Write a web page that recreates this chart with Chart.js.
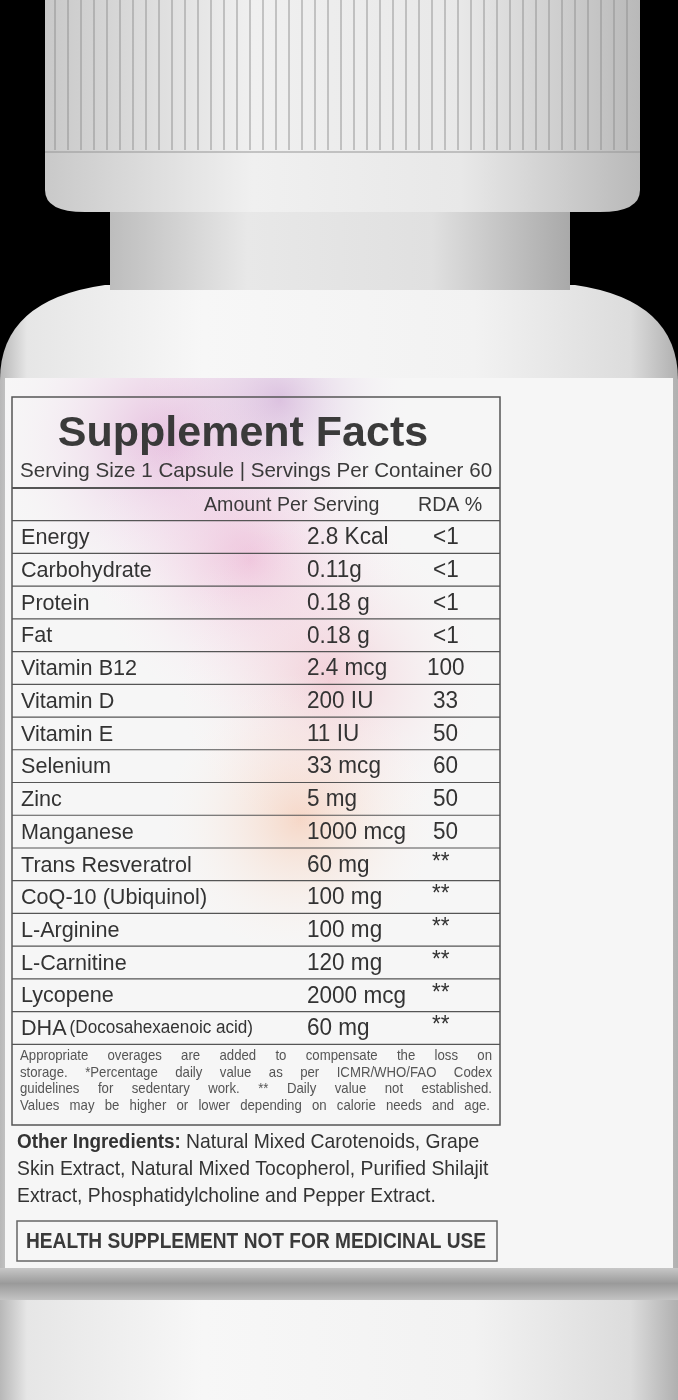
<!DOCTYPE html>
<html><head><meta charset="utf-8">
<script src="https://cdn.jsdelivr.net/npm/chart.js@4"></script>
<style>html,body{margin:0;padding:0;background:#000}canvas{display:block}</style>
</head><body>
<canvas id="c" width="678" height="1400" style="width:678px;height:1400px"></canvas>
<script>
const nutrients = ["Energy","Carbohydrate","Protein","Fat","Vitamin B12","Vitamin D","Vitamin E","Selenium","Zinc","Manganese","Trans Resveratrol","CoQ-10 (Ubiquinol)","L-Arginine","L-Carnitine","Lycopene","DHA"];
const amounts = ["2.8 Kcal","0.11g","0.18 g","0.18 g","2.4 mcg","200 IU","11 IU","33 mcg","5 mg","1000 mcg","60 mg","100 mg","100 mg","120 mg","2000 mcg","60 mg"];
const rda = ["<1","<1","<1","<1","100","33","50","60","50","50","**","**","**","**","**","**"];
const title = "Supplement Facts";
const serving = "Serving Size 1 Capsule | Servings Per Container 60";
const footnote = ["Appropriate overages are added to compensate the loss on","storage. *Percentage daily value as per ICMR/WHO/FAO Codex","guidelines for sedentary work. ** Daily value not established.","Values may be higher or lower depending on calorie needs and age."];
const other = ["Natural Mixed Carotenoids, Grape","Skin Extract, Natural Mixed Tocopherol, Purified Shilajit","Extract, Phosphatidylcholine and Pepper Extract."];
const F = '"Liberation Sans", Arial, sans-serif';

function ts(ctx,s,x,y,sx){ctx.save();ctx.translate(x,y);ctx.scale(sx,1);ctx.fillText(s,0,0);ctx.restore();return ctx.measureText(s).width*sx;}
function justify(ctx, text, x, y, w, sx){
  const words=text.split(' ');let tw=0;words.forEach(s=>tw+=ctx.measureText(s).width*sx);
  const gap=(w-tw)/(words.length-1);let cx=x;
  words.forEach(s=>{cx+=ts(ctx,s,cx,y,sx)+gap;});
}

const bottle = {id:'bottle',beforeDraw(chart){
  const ctx=chart.ctx;ctx.save();
  ctx.fillStyle='#000';ctx.fillRect(0,0,678,1400);
  let g=ctx.createLinearGradient(0,0,678,0);
  g.addColorStop(0,'#b8b8b8');g.addColorStop(0.04,'#e6e6e6');g.addColorStop(0.3,'#f7f7f7');
  g.addColorStop(0.7,'#f2f2f2');g.addColorStop(0.93,'#dcdcdc');g.addColorStop(1,'#b0b0b0');
  ctx.fillStyle=g;ctx.beginPath();ctx.moveTo(105,285);ctx.lineTo(575,285);
  ctx.quadraticCurveTo(678,300,678,380);ctx.lineTo(678,1400);ctx.lineTo(0,1400);ctx.lineTo(0,380);
  ctx.quadraticCurveTo(0,300,105,285);ctx.fill();
  ctx.fillStyle='#f6f6f6';ctx.fillRect(5,378,668,890);
  const blobs=[[170,440,190,'rgba(215,140,200,0.55)'],[250,560,170,'rgba(230,140,190,0.45)'],[330,680,170,'rgba(235,150,170,0.4)'],[300,820,150,'rgba(245,170,130,0.4)'],[280,400,140,'rgba(190,140,200,0.45)']];
  blobs.forEach(b=>{const r=ctx.createRadialGradient(b[0],b[1],0,b[0],b[1],b[2]);r.addColorStop(0,b[3]);r.addColorStop(1,'rgba(255,255,255,0)');ctx.fillStyle=r;ctx.fillRect(5,378,500,890);});
  g=ctx.createLinearGradient(0,1265,0,1302);g.addColorStop(0,'#d0d0d0');g.addColorStop(0.5,'#9a9a9a');g.addColorStop(1,'#c8c8c8');
  ctx.fillStyle=g;ctx.fillRect(0,1268,678,32);
  g=ctx.createLinearGradient(110,0,570,0);g.addColorStop(0,'#bdbdbd');g.addColorStop(0.3,'#e8e8e8');g.addColorStop(0.7,'#e0e0e0');g.addColorStop(1,'#a9a9a9');
  ctx.fillStyle=g;ctx.fillRect(110,200,460,90);
  g=ctx.createLinearGradient(45,0,640,0);g.addColorStop(0,'#c9c9c9');g.addColorStop(0.35,'#f0f0f0');g.addColorStop(0.7,'#e8e8e8');g.addColorStop(1,'#b9b9b9');
  ctx.fillStyle=g;ctx.beginPath();ctx.moveTo(45,0);ctx.lineTo(640,0);ctx.lineTo(640,190);ctx.quadraticCurveTo(640,212,600,212);ctx.lineTo(85,212);ctx.quadraticCurveTo(45,212,45,190);ctx.fill();
  ctx.strokeStyle='rgba(140,140,140,0.45)';ctx.lineWidth=2;
  for(let x=55;x<635;x+=13){ctx.beginPath();ctx.moveTo(x,0);ctx.lineTo(x,150);ctx.stroke();}
  ctx.strokeStyle='rgba(150,150,150,0.5)';ctx.beginPath();ctx.moveTo(45,152);ctx.lineTo(640,152);ctx.stroke();
  ctx.restore();
}};

const table = {id:'table',afterDraw(chart){
  const ctx=chart.ctx, y=chart.scales.y;ctx.save();
  const L=12,R=500;ctx.strokeStyle='#555';
  ctx.lineWidth=1.5;ctx.strokeRect(L,397,R-L,728);
  ctx.fillStyle='#3a3a3a';
  ctx.font='bold 43px '+F;ctx.textAlign='center';ctx.textBaseline='middle';
  ctx.fillText(title,243,434);
  ctx.textAlign='left';
  ctx.font='21px '+F;ts(ctx,serving,20,471,0.98);
  ctx.lineWidth=2;ctx.beginPath();ctx.moveTo(L,488);ctx.lineTo(R,488);ctx.stroke();
  ctx.font='20px '+F;ts(ctx,'Amount Per Serving',204,505,0.98);ts(ctx,'RDA %',418,505,0.98);
  const step=y.getPixelForValue(1)-y.getPixelForValue(0);
  ctx.lineWidth=1.2;
  nutrients.forEach((n,i)=>{
    const py=y.getPixelForValue(i)+1;
    ctx.beginPath();ctx.moveTo(L,py-1-step/2);ctx.lineTo(R,py-1-step/2);ctx.stroke();
    ctx.fillStyle='#333';ctx.font='22.5px '+F;
    const w=ts(ctx,n,21,py,0.96);
    if(n==='DHA'){ctx.font='18px '+F;ts(ctx,'(Docosahexaenoic acid)',21+w+3,py-1,0.95);}
    ctx.font='23px '+F;ts(ctx,amounts[i],307,py,0.98);
    ts(ctx,rda[i],rda[i]==='**'?432:(rda[i].length>2?427:433),py+(rda[i]==='**'?-3:0),0.98);
  });
  const last=y.getPixelForValue(nutrients.length-1)+step/2;
  ctx.beginPath();ctx.moveTo(L,last);ctx.lineTo(R,last);ctx.stroke();
  ctx.font='15px '+F;ctx.fillStyle='#555';
  footnote.forEach((t,i)=>justify(ctx,t,20,1056+i*16.5,i<3?472:470,0.88));
  ctx.fillStyle='#333';ctx.font='bold 21px '+F;
  const ow=ts(ctx,'Other Ingredients: ',17,1142,0.9);
  ctx.font='21px '+F;ts(ctx,other[0],17+ow,1142,0.92);ts(ctx,other[1],17,1169,0.92);ts(ctx,other[2],17,1196,0.92);
  ctx.strokeStyle='#666';ctx.lineWidth=1.5;ctx.strokeRect(17,1221,480,40);
  ctx.font='bold 22px '+F;ctx.fillStyle='#3a3a3a';ts(ctx,'HEALTH SUPPLEMENT NOT FOR MEDICINAL USE',26,1242,0.87);
  ctx.restore();
}};

new Chart(document.getElementById('c'),{
  type:'bar',
  data:{labels:nutrients,datasets:[{data:nutrients.map(()=>0),backgroundColor:'rgba(0,0,0,0)'}]},
  options:{indexAxis:'y',responsive:false,animation:false,devicePixelRatio:1,
    layout:{padding:{top:520.6,bottom:1400-1044.4,left:12,right:178}},
    plugins:{legend:{display:false},tooltip:{enabled:false}},
    scales:{x:{display:false,min:0,max:1},y:{display:false,offset:true}}},
  plugins:[bottle,table]
});
</script></body></html>
